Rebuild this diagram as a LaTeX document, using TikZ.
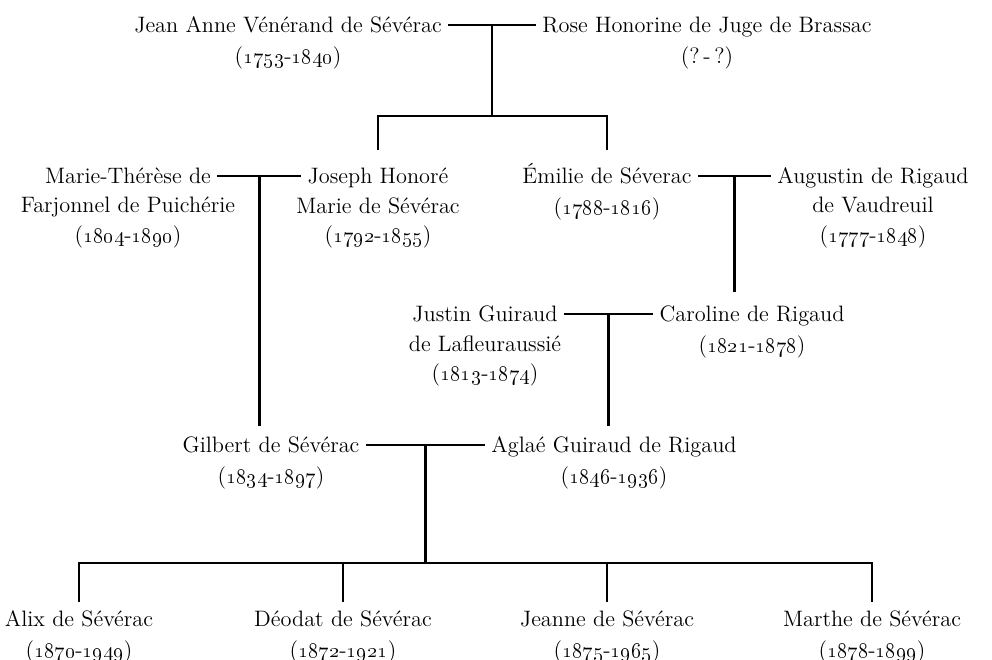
\documentclass[tikz,border=0pt]{standalone}
\usetikzlibrary{positioning,calc}
\newcommand{\yr}[2]{(\oldstylenums{#1}-\oldstylenums{#2})}

\begin{document}
\begin{tikzpicture}[
  every node/.style={font=\fontsize{12.7pt}{17pt}\selectfont},
  nm/.style={inner xsep=3.5pt, inner ysep=0pt, text height=10.8pt, text depth=2.3pt},
  sub/.style={below=5.2pt of #1, align=center, inner sep=0pt},
  fam/.style={line width=1.5pt}]
  \useasboundingbox (0,0) rectangle (19.84,-13.2);

  % grandparents
  \node[nm] (jean) at (5.76,-0.50) {Jean Anne Vénérand de Sévérac};
  \node[sub=jean] (jean-d) {\yr{1753}{1840}};
  \node[nm] (rose) at (14.14,-0.50) {Rose Honorine de Juge de Brassac};
  \node[sub=rose] (rose-d) {(?\,-\,?)};

  % parents
  \node[nm] (marie) at (2.56,-3.52) {Marie-Thérèse de};
  \node[sub=marie] (marie-d) {Farjonnel de Puichérie\\\yr{1804}{1890}};
  \node[nm] (joseph) at (7.56,-3.52) {Joseph Honoré};
  \node[sub=joseph] (joseph-d) {Marie de Sévérac\\\yr{1792}{1855}};
  \node[nm] (emilie) at (12.14,-3.52) {Émilie de Séverac};
  \node[sub=emilie] (emilie-d) {\yr{1788}{1816}};
  \node[nm] (augustin) at (17.46,-3.52) {Augustin de Rigaud};
  \node[sub=augustin] (augustin-d) {de Vaudreuil\\\yr{1777}{1848}};

  \node[nm] (justin) at (9.70,-6.28) {Justin Guiraud};
  \node[sub=justin] (justin-d) {de Lafleuraussié\\\yr{1813}{1874}};
  \node[nm] (caroline) at (15.04,-6.28) {Caroline de Rigaud};
  \node[sub=caroline] (caroline-d) {\yr{1821}{1878}};

  \node[nm] (gilbert) at (5.42,-8.90) {Gilbert de Sévérac};
  \node[sub=gilbert] (gilbert-d) {\yr{1834}{1897}};
  \node[nm] (aglae) at (12.28,-8.90) {Aglaé Guiraud de Rigaud};
  \node[sub=aglae] (aglae-d) {\yr{1846}{1936}};

  % children
  \node[nm] (alix) at (1.58,-12.38) {Alix de Sévérac};
  \node[sub=alix] (alix-d) {\yr{1870}{1949}};
  \node[nm] (deodat) at (6.86,-12.38) {Déodat de Sévérac};
  \node[sub=deodat] (deodat-d) {\yr{1872}{1921}};
  \node[nm] (jeanne) at (12.14,-12.38) {Jeanne de Sévérac};
  \node[sub=jeanne] (jeanne-d) {\yr{1875}{1965}};
  \node[nm] (marthe) at (17.44,-12.38) {Marthe de Sévérac};
  \node[sub=marthe] (marthe-d) {\yr{1878}{1899}};

  % marriages
  \draw[fam] (jean.east) -- (rose.west);
  \draw[fam] (marie.east) -- (joseph.west);
  \draw[fam] (emilie.east) -- (augustin.west);
  \draw[fam] (justin.east) -- (caroline.west);
  \draw[fam] (gilbert.east) -- (aglae.west);
  \coordinate (jr) at ($(jean.east)!.5!(rose.west)$);
  \coordinate (mj) at ($(marie.east)!.5!(joseph.west)$);
  \coordinate (ea) at ($(emilie.east)!.5!(augustin.west)$);
  \coordinate (jc) at ($(justin.east)!.5!(caroline.west)$);
  \coordinate (ga) at ($(gilbert.east)!.5!(aglae.west)$);

  % descent
  \draw[fam] (jr) -- (jr |- 0,-2.32);
  \draw[fam] ([yshift=8pt]joseph.north) |- (jr |- 0,-2.32) -| ([yshift=8pt]emilie.north);
  \draw[fam] (mj) -- ($(mj |- gilbert.north)+(0,4pt)$);
  \draw[fam] (ea) -- ($(ea |- caroline.north)+(0,5.7pt)$);
  \draw[fam] (jc) -- ($(jc |- aglae.north)+(0,4pt)$);
  \draw[fam] (ga) -- (ga |- 0,-11.26);
  \draw[fam] ([yshift=3pt]alix.north) |- (marthe |- 0,-11.26) -- ([yshift=3pt]marthe.north);
  \foreach \c in {deodat,jeanne}
    \draw[fam] ([yshift=3pt]\c.north) -- (\c |- 0,-11.26);
\end{tikzpicture}
\end{document}
